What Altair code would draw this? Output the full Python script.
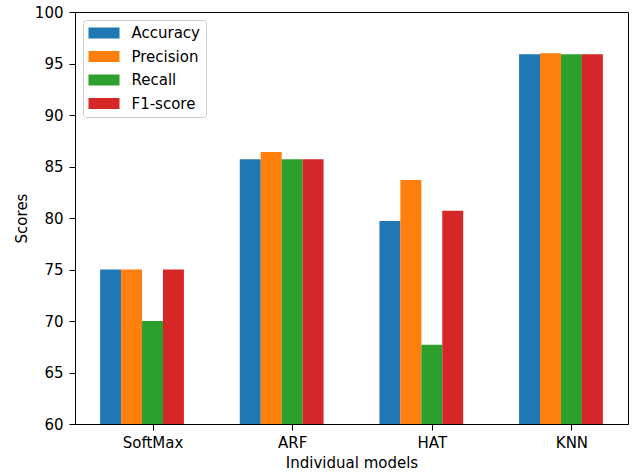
import json
import altair as alt
import pandas as pd

models = ["SoftMax", "ARF", "HAT", "KNN"]
metrics = ["Accuracy", "Precision", "Recall", "F1-score"]
accuracy = [75.0, 85.7, 79.7, 95.9]
precision = [75.0, 86.4, 83.7, 96.0]
recall = [70.0, 85.7, 67.7, 95.9]
f1_score = [75.0, 85.7, 80.7, 95.9]
colors = ["#1f77b4", "#ff7f0e", "#2ca02c", "#d62728"]

series = [accuracy, precision, recall, f1_score]
rows = []
for si, (name, vals) in enumerate(zip(metrics, series)):
    for mi, (m, v) in enumerate(zip(models, vals)):
        rows.append({"model": m, "mi": mi, "metric": name, "si": si, "value": v})
df = pd.DataFrame(rows)

W = 0.15
FONT = "DejaVu Sans"
FS = 15

label_expr = json.dumps(models) + "[datum.value]"

chart = (
    alt.Chart(df)
    .transform_calculate(
        x0=f"datum.mi + (datum.si - 2) * {W} - {W/2}",
        x1=f"datum.mi + (datum.si - 2) * {W} + {W/2}",
    )
    .mark_bar()
    .encode(
        x=alt.X(
            "x0:Q",
            scale=alt.Scale(domain=[-0.555, 3.405], nice=False, zero=False),
            axis=alt.Axis(
                values=[0, 1, 2, 3],
                labelExpr=label_expr,
                title="Individual models",
                grid=False,
                tickColor="black",
                domainColor="black",
                tickSize=6,
                labelPadding=5,
                titlePadding=5,
            ),
        ),
        x2="x1:Q",
        y=alt.Y(
            "value:Q",
            scale=alt.Scale(domain=[60, 100], nice=False, zero=False),
            axis=alt.Axis(
                values=list(range(60, 101, 5)),
                title="Scores",
                grid=False,
                tickColor="black",
                domainColor="black",
                tickSize=6,
                labelPadding=6,
                titlePadding=5,
            ),
        ),
        y2=alt.Y2(datum=60),
        color=alt.Color(
            "metric:N",
            scale=alt.Scale(domain=metrics, range=colors),
            sort=metrics,
            legend=alt.Legend(
                title=None,
                orient="top-left",
                offset=8,
                symbolType="M-1,-0.733L3.133,-0.733L3.133,0.733L-1,0.733Z",
                symbolSize=225,
                symbolStrokeWidth=0,
                symbolOpacity=1,
                labelFontSize=FS,
                labelFont=FONT,
                labelColor="black",
                labelOffset=28,
                rowPadding=7.5,
                padding=5.5,
                fillColor="rgba(255,255,255,0.8)",
                strokeColor="#cccccc",
                cornerRadius=3,
            ),
        ),
    )
    .properties(
        width=553,
        height=412,
        padding={"left": 75, "top": 12, "right": 8, "bottom": 50},
        autosize=alt.AutoSizeParams(type="none"),
    )
    .configure_view(stroke="black", strokeWidth=1)
    .configure_axis(
        labelFont=FONT,
        titleFont=FONT,
        labelFontSize=FS,
        titleFontSize=FS,
        titleFontWeight="normal",
        labelColor="black",
        titleColor="black",
    )
)

chart.save("out.html", embed_options={"renderer": "svg", "actions": False})
